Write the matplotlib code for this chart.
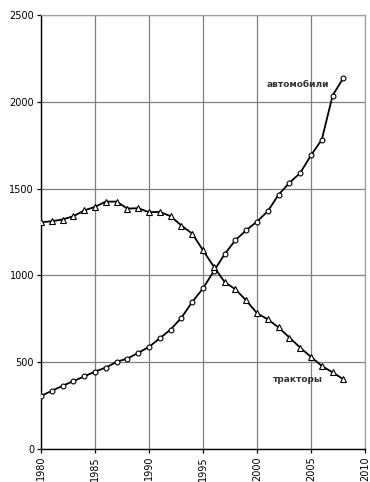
import matplotlib
matplotlib.use("Agg")
import matplotlib.pyplot as plt

years = list(range(1980, 2009))
cars = [306, 335, 364, 391, 418, 446, 469, 502, 521, 554, 588, 638, 688, 756, 847,
        925, 1025, 1122, 1203, 1260, 1310, 1370, 1465, 1533, 1590, 1692, 1782, 2036, 2138]
tractors = [1306, 1312, 1322, 1341, 1374, 1395, 1425, 1425, 1385, 1387, 1364, 1366, 1341, 1287, 1241,
            1145, 1050, 962, 920, 856, 782, 747, 700, 642, 584, 530, 479, 441, 402]
xticks = [1980, 1985, 1990, 1995, 2000, 2005, 2010]
yticks = [0, 500, 1000, 1500, 2000, 2500]
label_cars = "автомобили"
label_tractors = "тракторы"

plt.rcParams['font.family'] = ['DejaVu Sans']
fig = plt.figure(figsize=(3.70, 4.82), dpi=100)
ax = fig.add_axes([41/370, 1-449/482, (365-41)/370, (449-15)/482])

ax.plot(years, cars, color='black', lw=1.3, marker='o', ms=3.5,
        mfc='white', mec='black', mew=0.8, zorder=3)
ax.plot(years, tractors, color='black', lw=1.3, marker='^', ms=4.5,
        mfc='white', mec='black', mew=0.8, zorder=3)

ax.set_xlim(1980, 2010)
ax.set_ylim(0, 2500)
ax.set_xticks(xticks)
ax.set_yticks(yticks)
ax.set_xticklabels([str(v) for v in xticks], rotation=90, fontsize=7)
ax.set_yticklabels([str(v) for v in yticks], fontsize=7)
ax.grid(True, color='#808080', lw=0.9)
ax.set_axisbelow(True)
for s in ['top', 'right']:
    ax.spines[s].set_color('#a0a0a0')
    ax.spines[s].set_linewidth(0.9)
for s in ['left', 'bottom']:
    ax.spines[s].set_color('black')
    ax.spines[s].set_linewidth(1.0)
ax.tick_params(direction='out', length=3, width=0.9, pad=2)

ax.text(2003.8, 2100, label_cars, fontsize=6.5, fontweight='bold', color='#333333',
        ha='center', va='center', zorder=4)
ax.text(2003.8, 400, label_tractors, fontsize=6.5, fontweight='bold', color='#333333',
        ha='center', va='center', zorder=4)

fig.savefig("out.png", dpi=100)
